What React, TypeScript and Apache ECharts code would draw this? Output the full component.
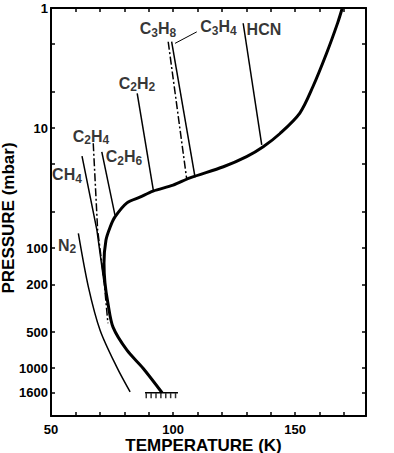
import React, { useEffect, useRef } from "react";
import * as echarts from "echarts";

const FONT = '"Liberation Sans", Arial, sans-serif';

// Temperature profile: temperature (K) and pressure (mbar)
const profileT = [95.5, 87.7, 81.1, 75.4, 73.3, 72.1, 71.7, 72.5, 74.2, 76.2, 81.1, 86.4, 91.8, 100, 106.9, 120.6, 130.1, 136.9, 143.8, 151.9, 157.2, 162.9, 167.4, 169.3];
const profileP = [1600, 1000, 708, 455, 287, 195, 133, 86, 67, 55, 42, 37.6, 33.5, 29.9, 26, 21, 17.3, 14.3, 11.1, 7.5, 4.55, 2.37, 1.33, 1];

// Saturation vapour pressure curves
const n2T = [61.2, 65.3, 70.1, 76.9, 82.4];
const n2P = [75.4, 210, 482, 975, 1575];
const ch4T = [62.7, 68.8, 71.7];
const ch4P = [17.1, 70.8, 192];
const c2h4T = [67.3, 69.1, 71.7, 73.3];
const c2h4P = [13.4, 70.8, 185, 422];
const c2h6T = [70.8, 76.2];
const c2h6P = [15.8, 53.1];
const c2h2T = [85.3, 91.9];
const c2h2P = [5.13, 32.9];
const c3h8T = [98.0, 105.6];
const c3h8P = [1.91, 26.8];
const c3h4T = [99.4, 109.0];
const c3h4P = [1.91, 25.8];
const hcnT = [128.7, 136.3];
const hcnP = [1.34, 13.8];

// Surface (ground) marker
const surfaceP = 1600;
const surfaceT = [88.5, 102];
const surfaceHatchT = [89, 91, 93, 95, 97, 99, 101];

// Axis ticks / labels
const xLabels = [50, 100, 150];
const pTicks = [1, 2, 5, 10, 20, 50, 100, 200, 500, 1000, 1600];
const pLabels = [1, 10, 100, 200, 500, 1000, 1600];

// Species labels (rich text) and their anchors [T, p]
const speciesNames = ["N2", "CH4", "C2H4", "C2H6", "C2H2", "C3H8", "C3H4", "HCN"];
const speciesText = [
  "{a|N}{s|2}",
  "{a|CH}{s|4}",
  "{a|C}{s|2}{a|H}{s|4}",
  "{a|C}{s|2}{a|H}{s|6}",
  "{a|C}{s|2}{a|H}{s|2}",
  "{a|C}{s|3}{a|H}{s|8}",
  "{a|C}{s|3}{a|H}{s|4}",
  "{h|HCN}",
];
const labelAnchors: [number, number][] = [
  [56.55, 102],
  [56.55, 26.4],
  [66.4, 12.6],
  [79.9, 18.8],
  [85.2, 4.55],
  [93.8, 1.61],
  [118.6, 1.54],
  [137.2, 1.5],
];
// leader line from the C3H4 label to its curve
const leaderT = [109.7, 100.8];
const leaderP = [1.58, 1.97];

const zip = (t: number[], p: number[]) => t.map((v, i) => [v, p[i]]);

const thin = (name: string, t: number[], p: number[], dashed = false, smooth: number | boolean = false) => ({
  type: "line",
  name,
  data: zip(t, p),
  symbol: "none",
  smooth,
  lineStyle: { color: "#000", width: 1.5, type: dashed ? [8, 2.5, 2, 2.5] : "solid" },
  z: 2,
});

export default function App() {
  const ref = useRef<HTMLDivElement>(null);
  useEffect(() => {
    if (!ref.current) return;
    const chart = echarts.init(ref.current, null, { renderer: "svg" });
    const axisLine = { onZero: false, lineStyle: { color: "#000", width: 2 } };
    const tick = { inside: true, length: 4, lineStyle: { color: "#000", width: 1.5 } };
    const labelStyle = { color: "#000", fontSize: 13, fontWeight: "bold", fontFamily: FONT };
    const nameStyle = { color: "#000", fontSize: 17, fontWeight: "bold", fontFamily: FONT, lineHeight: 14 };
    const option: any = {
      animation: false,
      backgroundColor: "#fff",
      grid: { left: 51, right: 28, top: 8, bottom: 37, containLabel: false, outerBoundsMode: "none" },
      xAxis: [
        {
          type: "value",
          position: "bottom",
          min: 50,
          max: 179,
          interval: 10,
          axisLine,
          axisTick: tick,
          axisLabel: { ...labelStyle, customValues: xLabels, margin: 7, formatter: (v: number) => String(v) },
          splitLine: { show: false },
          name: "TEMPERATURE (K)",
          nameLocation: "middle",
          nameGap: 22,
          nameMoveOverlap: false,
          nameTextStyle: { ...nameStyle, padding: [0, 10, 0, 0] },
        },
        {
          type: "value",
          position: "top",
          min: 50,
          max: 179,
          interval: 10,
          axisLine,
          axisTick: tick,
          axisLabel: { show: false },
          splitLine: { show: false },
        },
      ],
      yAxis: [
        {
          type: "log",
          logBase: 10,
          min: 1,
          max: 2500,
          inverse: true,
          position: "left",
          axisLine,
          axisTick: { ...tick, customValues: pTicks },
          axisLabel: { ...labelStyle, customValues: pLabels, margin: 3, formatter: (v: number) => String(Math.round(v)) },
          splitLine: { show: false },
          minorTick: { show: false },
          name: "PRESSURE (mbar)",
          nameLocation: "middle",
          nameGap: 36,
          nameMoveOverlap: false,
          nameTextStyle: { ...nameStyle, padding: [0, 12, 0, 0] },
        },
        {
          type: "log",
          logBase: 10,
          min: 1,
          max: 2500,
          inverse: true,
          position: "right",
          axisLine,
          axisTick: { ...tick, customValues: pTicks.slice(1) },
          axisLabel: { show: false },
          splitLine: { show: false },
        },
      ],
      series: [
        thin("N2", n2T, n2P, false, 0.3),
        thin("CH4", ch4T, ch4P),
        thin("C2H4", c2h4T, c2h4P, true),
        thin("C2H6", c2h6T, c2h6P),
        thin("C2H2", c2h2T, c2h2P),
        thin("C3H8", c3h8T, c3h8P, true),
        thin("C3H4", c3h4T, c3h4P),
        thin("HCN", hcnT, hcnP),
        {
          type: "line",
          name: "leader",
          data: zip(leaderT, leaderP),
          symbol: "none",
          lineStyle: { color: "#000", width: 1 },
        },
        {
          type: "line",
          name: "profile",
          data: zip(profileT, profileP),
          symbol: "none",
          smooth: 0.3,
          lineStyle: { color: "#000", width: 3 },
          z: 3,
        },
        {
          type: "line",
          name: "surface",
          data: surfaceT.map((t) => [t, surfaceP]),
          symbol: "none",
          lineStyle: { color: "#000", width: 1.5 },
        },
        {
          type: "scatter",
          name: "hatch",
          data: surfaceHatchT.map((t) => [t, surfaceP]),
          symbol: "rect",
          symbolSize: [1.5, 5],
          symbolOffset: [0, 3],
          itemStyle: { color: "#000" },
        },
        {
          type: "scatter",
          name: "labels",
          data: labelAnchors.map((a, i) => ({ value: a, name: speciesNames[i], txt: speciesText[i] })),
          symbolSize: 1,
          itemStyle: { color: "rgba(0,0,0,0)" },
          label: {
            show: true,
            position: "inside",
            formatter: (p: any) => p.data.txt,
            rich: {
              a: { fontSize: 16, fontWeight: "bold", fontFamily: FONT, color: "#000", lineHeight: 12, verticalAlign: "top" },
              s: { fontSize: 12, fontWeight: "bold", fontFamily: FONT, color: "#000", lineHeight: 24 },
              h: { fontSize: 16, fontWeight: "bold", fontFamily: FONT, color: "#000", lineHeight: 12 },
            },
          },
          z: 5,
        },
      ],
    };
    chart.setOption(option);
    return () => chart.dispose();
  }, []);
  return (
    <div
      ref={ref}
      style={{ position: "fixed", left: 0, top: 0, width: 394, height: 453, background: "#fff" }}
    />
  );
}
